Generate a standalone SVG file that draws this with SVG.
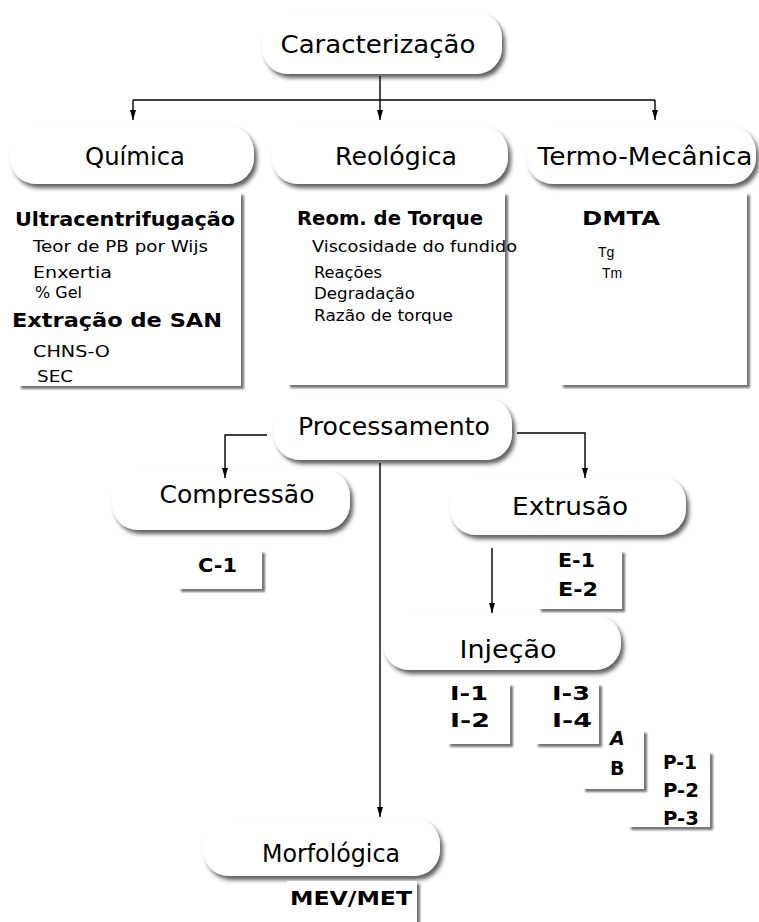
<svg xmlns="http://www.w3.org/2000/svg" width="759" height="922" viewBox="0 0 759 922">
<defs>
<style>
text{font-family:"DejaVu Sans","Liberation Sans",sans-serif;fill:#000}
.t{font-size:24px;text-anchor:middle}
.h{font-size:20px;font-weight:bold}
.s{font-size:15px}
.a{font-family:"Liberation Sans",Arial,sans-serif;font-size:14px}
.c{font-size:19px;font-weight:bold}
.pill{fill:#fff;filter:url(#ps)}
.box{fill:#fff;filter:url(#bs)}
.ln{fill:none;stroke:#000;stroke-width:1.4}
</style>
<filter id="ps" x="-5%" y="-15%" width="115%" height="140%">
<feGaussianBlur in="SourceAlpha" stdDeviation="2.2" result="b"/>
<feOffset in="b" dx="3" dy="4" result="o"/>
<feFlood flood-color="#444" flood-opacity="0.85"/>
<feComposite in2="o" operator="in" result="s"/>
<feMerge><feMergeNode in="s"/><feMergeNode in="SourceGraphic"/></feMerge>
</filter>
<filter id="bs" x="-5%" y="-5%" width="115%" height="115%">
<feGaussianBlur in="SourceAlpha" stdDeviation="1.2" result="b"/>
<feOffset in="b" dx="3" dy="3" result="o"/>
<feFlood flood-color="#666" flood-opacity="0.9"/>
<feComposite in2="o" operator="in" result="s"/>
<feMerge><feMergeNode in="s"/><feMergeNode in="SourceGraphic"/></feMerge>
</filter>
<marker id="ah" viewBox="0 0 10 6" refX="10" refY="3" markerWidth="10" markerHeight="6" orient="auto" markerUnits="userSpaceOnUse">
<path d="M0,0 L10,3 L0,6 z" fill="#000"/>
</marker>
</defs>
<rect width="759" height="922" fill="#fff"/>

<g id="caracterizacao">
<rect class="pill" x="262" y="12" width="240" height="62" rx="26"/>
<text class="t" x="378" y="53" textLength="195" lengthAdjust="spacingAndGlyphs">Caracterização</text>
</g>

<g id="quimica">
<rect class="pill" x="10" y="126" width="244" height="58" rx="26"/>
<text class="t" x="135" y="165" textLength="100" lengthAdjust="spacingAndGlyphs">Química</text>
</g>
<g id="quimica-box">
<rect class="box" x="18" y="192" width="223" height="194"/>
<text class="h" x="15" y="226" textLength="220" lengthAdjust="spacingAndGlyphs">Ultracentrifugação</text>
<text class="s" x="33" y="252" textLength="175" lengthAdjust="spacingAndGlyphs">Teor de PB por Wijs</text>
<text class="s" x="33" y="278" textLength="79" lengthAdjust="spacingAndGlyphs">Enxertia</text>
<text class="s" x="35" y="298" textLength="47" lengthAdjust="spacingAndGlyphs">% Gel</text>
<text class="h" x="12" y="327" textLength="210" lengthAdjust="spacingAndGlyphs">Extração de SAN</text>
<text class="s" x="33" y="357" textLength="77" lengthAdjust="spacingAndGlyphs">CHNS-O</text>
<text class="s" x="37" y="382" textLength="36" lengthAdjust="spacingAndGlyphs">SEC</text>
</g>

<g id="reologica">
<rect class="pill" x="272" y="126" width="236" height="58" rx="26"/>
<text class="t" x="396" y="165" textLength="122" lengthAdjust="spacingAndGlyphs">Reológica</text>
</g>
<g id="reologica-box">
<rect class="box" x="287" y="192" width="218" height="193"/>
<text class="h" x="297" y="225" textLength="186" lengthAdjust="spacingAndGlyphs">Reom. de Torque</text>
<text class="s" x="312" y="252" textLength="205" lengthAdjust="spacingAndGlyphs">Viscosidade do fundido</text>
<text class="s" x="314" y="278" textLength="68" lengthAdjust="spacingAndGlyphs">Reações</text>
<text class="s" x="314" y="299" textLength="101" lengthAdjust="spacingAndGlyphs">Degradação</text>
<text class="s" x="314" y="321" textLength="139" lengthAdjust="spacingAndGlyphs">Razão de torque</text>
</g>

<g id="termo">
<rect class="pill" x="527" y="126" width="229" height="58" rx="26"/>
<text class="t" x="645" y="165" textLength="215" lengthAdjust="spacingAndGlyphs">Termo-Mecânica</text>
</g>
<g id="termo-box">
<rect class="box" x="560" y="192" width="187" height="193"/>
<text class="h" x="582" y="225" textLength="78" lengthAdjust="spacingAndGlyphs">DMTA</text>
<text class="a" x="598" y="257">Tg</text>
<text class="a" x="602" y="278">Tm</text>
</g>

<g id="processamento">
<rect class="pill" x="274" y="398" width="238" height="62" rx="26"/>
<text class="t" x="394" y="435" textLength="192" lengthAdjust="spacingAndGlyphs">Processamento</text>
</g>

<g id="compressao">
<rect class="pill" x="112" y="470" width="238" height="60" rx="26"/>
<text class="t" x="237" y="503" textLength="155" lengthAdjust="spacingAndGlyphs">Compressão</text>
</g>
<g id="c1">
<rect class="box" x="178" y="550" width="84" height="39"/>
<text class="c" x="198" y="572" textLength="39" lengthAdjust="spacingAndGlyphs">C-1</text>
</g>

<g id="extrusao">
<rect class="pill" x="450" y="476" width="236" height="59" rx="26"/>
<text class="t" x="570" y="515" textLength="116" lengthAdjust="spacingAndGlyphs">Extrusão</text>
</g>
<g id="e-box">
<rect class="box" x="538" y="550" width="84" height="59"/>
<text class="c" x="558" y="567" textLength="37" lengthAdjust="spacingAndGlyphs">E-1</text>
<text class="c" x="558" y="596" textLength="40" lengthAdjust="spacingAndGlyphs">E-2</text>
</g>

<g id="injecao">
<rect class="pill" x="383" y="615" width="238" height="55" rx="26"/>
<text class="t" x="508" y="658" textLength="97" lengthAdjust="spacingAndGlyphs">Injeção</text>
</g>
<g id="p-box">
<rect class="box" x="628" y="751" width="82" height="76"/>
<text class="c" x="663" y="769" textLength="34" lengthAdjust="spacingAndGlyphs">P-1</text>
<text class="c" x="663" y="797" textLength="36" lengthAdjust="spacingAndGlyphs">P-2</text>
<text class="c" x="663" y="825" textLength="36" lengthAdjust="spacingAndGlyphs">P-3</text>
</g>
<g id="ab">
<rect class="box" x="582" y="730" width="62" height="59"/>
<text class="c" x="610" y="745" font-style="italic">A</text>
<text class="c" x="610" y="775">B</text>
</g>
<g id="i34">
<rect class="box" x="535" y="683" width="64" height="61"/>
<text class="c" x="552" y="700" textLength="38" lengthAdjust="spacingAndGlyphs">I-3</text>
<text class="c" x="552" y="727" textLength="40" lengthAdjust="spacingAndGlyphs">I-4</text>
</g>
<g id="i12">
<rect class="box" x="447" y="683" width="63" height="61"/>
<text class="c" x="450" y="700" textLength="38" lengthAdjust="spacingAndGlyphs">I-1</text>
<text class="c" x="450" y="727" textLength="40" lengthAdjust="spacingAndGlyphs">I-2</text>
</g>

<g id="morfologica">
<rect class="pill" x="203" y="818" width="237" height="58" rx="26"/>
<text class="t" x="331" y="862" textLength="138" lengthAdjust="spacingAndGlyphs">Morfológica</text>
</g>
<g id="mev">
<rect class="box" x="287" y="881" width="130" height="60"/>
<text class="c" x="290" y="905" textLength="122" lengthAdjust="spacingAndGlyphs">MEV/MET</text>
</g>

<g id="connectors">
<path class="ln" d="M380,76 V100"/>
<path class="ln" d="M133,100 H655"/>
<path class="ln" d="M133,100 V120" marker-end="url(#ah)"/>
<path class="ln" d="M380,100 V120" marker-end="url(#ah)"/>
<path class="ln" d="M655,100 V120" marker-end="url(#ah)"/>
<path class="ln" d="M267,435 H225 V478" marker-end="url(#ah)"/>
<path class="ln" d="M517,433 H585 V478" marker-end="url(#ah)"/>
<path class="ln" d="M380,463 V817" marker-end="url(#ah)"/>
<path class="ln" d="M492,548 V613" marker-end="url(#ah)"/>
</g>
</svg>
